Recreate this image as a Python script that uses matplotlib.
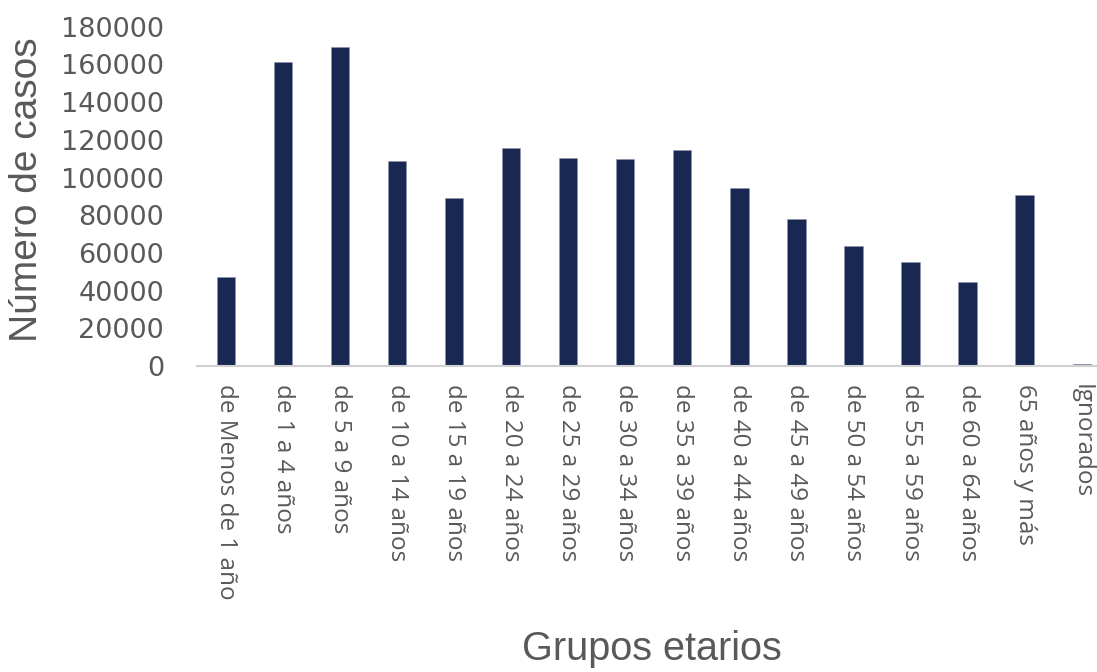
import matplotlib
matplotlib.use("Agg")
import matplotlib.pyplot as plt
import numpy as np

# age groups and case counts
grupos = ["de Menos de 1 año", "de 1 a 4 años", "de 5 a 9 años", "de 10 a 14 años",
          "de 15 a 19 años", "de 20 a 24 años", "de 25 a 29 años", "de 30 a 34 años",
          "de 35 a 39 años", "de 40 a 44 años", "de 45 a 49 años", "de 50 a 54 años",
          "de 55 a 59 años", "de 60 a 64 años", "65 años y más", "Ignorados"]
casos = [47300, 161300, 169100, 108800, 89100, 115400, 110400, 109600,
         114800, 94200, 78100, 63600, 55100, 44700, 90800, 1400]
yticks = list(range(0, 180001, 20000))

GREY = "#595959"
fig = plt.figure(figsize=(10.97, 6.72), dpi=100)
ax = fig.add_axes([0.18, 0.455, 0.832, 0.5055])

x = np.arange(len(grupos))
ax.bar(x, casos, width=0.32, color="#192853", edgecolor="#8a93aa", linewidth=0.4)

ax.set_xlim(-0.5, len(grupos) - 0.5)
ax.set_ylim(0, 180000)
ax.set_yticks(yticks)
ax.set_yticklabels([str(v) for v in yticks], fontsize=19.5, color=GREY, family="DejaVu Sans")
ax.set_xticks(x)
ax.set_xticklabels(grupos, rotation=270, ha="center", va="top", fontsize=17.5,
                   color=GREY, family="Open Sans")
ax.tick_params(axis="y", length=0, pad=24)
ax.tick_params(axis="x", length=0, pad=13)
for s in ["top", "right", "left"]:
    ax.spines[s].set_visible(False)
ax.spines["bottom"].set_color("#d0d0d0")
ax.spines["bottom"].set_linewidth(1.5)

fig.text(0.0246, 0.717, "Número de casos", rotation=90, ha="center", va="center",
         fontsize=28, color=GREY, family="Liberation Sans")
fig.text(0.594, 0.006, "Grupos etarios", ha="center", va="bottom",
         fontsize=28.5, color=GREY, family="Liberation Sans")

fig.savefig("out.png", dpi=100)
